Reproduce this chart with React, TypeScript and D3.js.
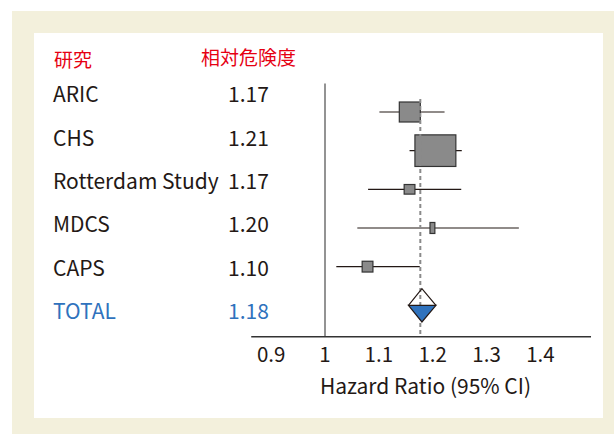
import { useMemo } from 'react';
import * as d3 from 'd3';

// studies, top to bottom
const studies = ['ARIC', 'CHS', 'Rotterdam Study', 'MDCS', 'CAPS'];
const rrLabels = ['1.17', '1.21', '1.17', '1.20', '1.10'];
const ciLow = [1.101, 1.157, 1.08, 1.06, 1.021];
const ciHigh = [1.222, 1.254, 1.253, 1.36, 1.176];
const boxLow = [1.138, 1.167, 1.147, 1.195, 1.069];
const boxHigh = [1.177, 1.243, 1.167, 1.204, 1.089];
const weights = [50, 79, 24, 27.5, 27];

const totalLabel = 'TOTAL';
const totalRR = '1.18';
const totalEst = [1.155, 1.18, 1.206]; // low, point, high
const refLine = 1.177;

const xTicks = [0.9, 1, 1.1, 1.2, 1.3, 1.4];
const xExtent = [0.863, 1.494];

const W = 614;
const H = 434;
const FONT = '"Noto Sans CJK JP", "Noto Sans", sans-serif';
const INK = '#231815';
const RED = '#e60012';
const BLUE = '#2f72bd';

export default function App() {
  const x = useMemo(() => d3.scaleLinear().domain([1, 1.2]).range([325, 432.7]), []);
  const rowsAll = [...studies, totalLabel];
  const labelY = d3.scalePoint<string>().domain(rowsAll).range([94.8, 311.3]);
  const markY = d3.scalePoint<string>().domain(rowsAll).range([112, 305.3]);
  const boxH = d3.scaleLinear().domain([0, 100]).range([0, 40]);

  const axisY = 336.7;
  const ty = markY(totalLabel)!;
  const dh = 16.7;
  const [tl, tm, th] = totalEst.map((v) => x(v));

  return (
    <svg
      width={W}
      height={H}
      style={{ position: 'absolute', left: 0, top: 0, display: 'block' }}
      fontFamily={FONT}
    >
      <rect x={12} y={11} width={W - 12} height={H - 11} fill="#f3f0dc" />
      <rect x={34} y={33} width={569} height={385} fill="#fff" />

      <text x={54} y={60} dy="0.35em" fontSize={19} fill={RED}>研究</text>
      <text x={201} y={58.5} dy="0.35em" fontSize={19} fill={RED}>相対危険度</text>

      {studies.map((s, i) => (
        <g key={s} fontSize={21} fill={INK}>
          <text x={53} y={labelY(s)} dy="0.36em">{s}</text>
          <text x={228} y={labelY(s)} dy="0.36em">{rrLabels[i]}</text>
        </g>
      ))}
      <text x={53} y={labelY(totalLabel)} dy="0.36em" fontSize={21} fill={BLUE}>{totalLabel}</text>
      <text x={228} y={labelY(totalLabel)} dy="0.36em" fontSize={21} fill={BLUE}>{totalRR}</text>

      {/* null line */}
      <line x1={x(1)} x2={x(1)} y1={83.5} y2={axisY} stroke="#6f6f6f" strokeWidth={1.5} />

      {/* study markers */}
      {studies.map((s, i) => {
        const y = markY(s)!;
        const h = boxH(weights[i]);
        return (
          <g key={s}>
            <line x1={x(ciLow[i])} x2={x(ciHigh[i])} y1={y} y2={y} stroke={INK} strokeWidth={1.2} />
            <rect
              x={x(boxLow[i])}
              y={y - h / 2}
              width={x(boxHigh[i]) - x(boxLow[i])}
              height={h}
              fill="#8a8a8a"
              stroke="#333"
              strokeWidth={1.2}
            />
          </g>
        );
      })}

      {/* overall reference line */}
      <line
        x1={x(refLine)}
        x2={x(refLine)}
        y1={99}
        y2={axisY}
        stroke="#8a8a8a"
        strokeWidth={2}
        strokeDasharray="4,3"
      />

      {/* pooled diamond */}
      <path d={`M${tl},${ty}L${tm},${ty - dh}L${th},${ty}`} fill="none" stroke={INK} strokeWidth={1.2} />
      <path d={`M${tl},${ty}L${th},${ty}L${tm},${ty + dh}Z`} fill={BLUE} stroke={INK} strokeWidth={1.2} />

      {/* x axis */}
      <line x1={x(xExtent[0])} x2={x(xExtent[1])} y1={axisY} y2={axisY} stroke="#333" strokeWidth={1.5} />
      {xTicks.map((t) => (
        <text key={t} x={x(t)} y={361.5} textAnchor="middle" fontSize={20.5} fill={INK}>
          {String(t)}
        </text>
      ))}
      <text x={425.5} y={394.3} textAnchor="middle" fontSize={21} fill={INK}>Hazard Ratio (95% CI)</text>
    </svg>
  );
}
